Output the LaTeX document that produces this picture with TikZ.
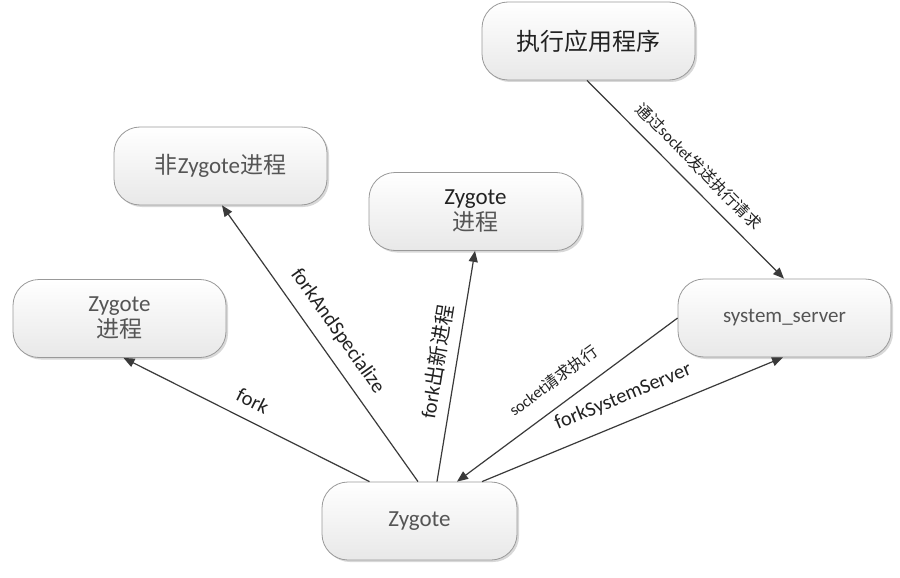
\documentclass[tikz,border=0pt]{standalone}
\usepackage{fontspec}
\setmainfont{Carlito}
\newfontfamily\cjk{Noto Sans CJK SC}
\usetikzlibrary{shadows,arrows.meta,calc}
\newcommand{\zh}[1]{{\cjk #1}}
\definecolor{linec}{HTML}{3A3A3A}
\definecolor{txtgrey}{HTML}{555555}
\definecolor{txtdark}{HTML}{222222}
\begin{document}
\begin{tikzpicture}[x=1pt,y=-1pt,
  box/.style={draw=black!40, line width=0.8pt, rounded corners=26pt,
    top color=white, bottom color=black!9, minimum width=213pt, minimum height=78pt,
    align=center, font=\fontsize{23}{26}\selectfont, text=txtgrey,
    drop shadow={shadow xshift=2pt, shadow yshift=-2pt, fill=black!25, opacity=0.6}},
  conn/.style={draw=linec, line width=1.2pt, -{Triangle[length=11pt,width=9pt]}},
  lab/.style={sloped, font=\fontsize{20.5}{22}\selectfont, text=txtdark, inner sep=2pt},
  slab/.style={sloped, font=\fontsize{16}{18}\selectfont, text=txtdark, inner sep=2pt}]
\useasboundingbox (0,0) rectangle (900,578);
\fill[white] (0,0) rectangle (900,578);

\node[box, text=txtdark, font=\fontsize{24}{28}\selectfont] (exec) at (588.5,41) {\zh{执行应用程序}};
\node[box] (nonz) at (220.5,166) {\zh{非}Zygote\zh{进程}};
\node[box] (midz) at (475.5,211.5) {\textcolor{txtdark}{Zygote}\\\zh{进程}};
\node[box] (leftz) at (119.5,318.5) {Zygote\\\zh{进程}};
\node[box, font=\fontsize{21}{24}\selectfont] (sys) at (784.5,318) {system\_server};
\node[box, minimum width=195pt] (botz) at (419.5,521) {Zygote};

\draw[conn] ([xshift=-50pt]botz.north) -- node[lab, pos=0.51, above=10pt] {fork} ([xshift=4pt]leftz.south);
\draw[conn] ([xshift=-1.5pt]botz.north) -- node[lab, pos=0.5, above=10pt] {forkAndSpecialize} ([xshift=1.5pt]nonz.south);
\draw[conn] ([xshift=17.5pt]botz.north) -- node[lab, pos=0.505, above=8pt] {fork\zh{出新进程}} ([xshift=-0.5pt]midz.south);
\draw[conn] ([xshift=-1.5pt]exec.south) -- node[slab, pos=0.5, above=9pt] {\zh{通过}socket\zh{发送执行请求}} ([xshift=-0.5pt]sys.north);
\draw[conn] (sys.west) -- node[slab, pos=0.5, above=14pt] {socket\zh{请求执行}} ([xshift=37.5pt]botz.north);
\draw[conn] ([xshift=62.5pt]botz.north) -- node[lab, pos=0.5, above=13pt] {forkSystemServer} ([xshift=-1.5pt]sys.south);
\end{tikzpicture}
\end{document}
